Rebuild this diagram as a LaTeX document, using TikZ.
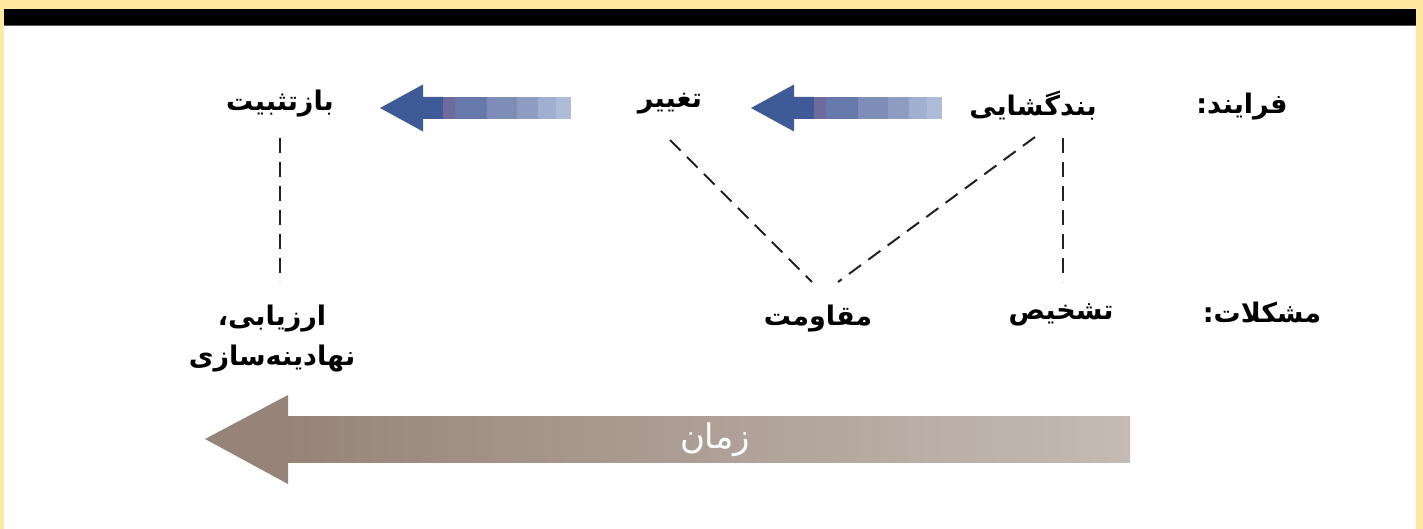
\documentclass[tikz,border=0pt]{standalone}
\usepackage{fontspec}
\usetikzlibrary{calc}
\newfontfamily\fa[Script=Arabic]{DejaVu Sans}
\TeXXeTstate=1
\definecolor{bord}{HTML}{FFE9A0}
\definecolor{bA}{HTML}{3E5A97}
\definecolor{bB}{HTML}{6E6A9B}
\definecolor{bC}{HTML}{6779AA}
\definecolor{bD}{HTML}{7E8DB8}
\definecolor{bE}{HTML}{8E9CC2}
\definecolor{bF}{HTML}{A0AECF}
\definecolor{bG}{HTML}{AFBCD8}
\definecolor{brA}{HTML}{968478}
\definecolor{brB}{HTML}{C5BBB4}
\definecolor{dashc}{HTML}{222222}
\tikzset{
  lbl/.style={font={\fa\bfseries\fontsize{27}{40}\selectfont}, inner sep=0pt, text=black},
  dashline/.style={draw=dashc, line width=2pt, dash pattern=on 15pt off 9pt},
  bluearrow/.pic={
    \fill[bA] (0,0) -- (43,-23.5) -- (43,-11) -- (63,-11) -- (63,11) -- (43,11) -- (43,23.5) -- cycle;
    \fill[bB] (63,-11) rectangle (75,11);
    \fill[bC] (75,-11) rectangle (107,11);
    \fill[bD] (107,-11) rectangle (137,11);
    \fill[bE] (137,-11) rectangle (158,11);
    \fill[bF] (158,-11) rectangle (176,11);
    \fill[bG] (176,-11) rectangle (191,11);
  }
}
\begin{document}
\begin{tikzpicture}[x=1pt,y=-1pt]
\useasboundingbox (0,0) rectangle (1423,529);
\fill[white] (0,0) rectangle (1423,529);
% border
\fill[bord] (0,0) rectangle (1423,9);
\fill[bord] (0,0) rectangle (4,529);
\fill[bord] (1416,0) rectangle (1423,529);
\fill[black] (4,9) rectangle (1416,25);
\fill[black!65] (4,25) rectangle (1416,26.5);

% process arrows
\pic at (380,108) {bluearrow};
\pic at (751,108) {bluearrow};

% time arrow
\shade[left color=brA, right color=brB] (286,416) rectangle (1130,462);
\fill[brA] (205,439) -- (288,395) -- (288,416) -- (290,416) -- (290,462) -- (288,462) -- (288,484) -- cycle;
\node[font={\fa\fontsize{34}{40}\selectfont}, text=white, inner sep=0pt] (zaman) at (715,440) {\beginR زمان\endR};

% labels
\node[lbl] (farayand) at (1242,107) {\beginR فرایند:\endR};
\node[lbl] (moshkelat) at (1262,313) {\beginR مشکلات:\endR};
\node[lbl] (bandgoshayi) at (1033,106) {\beginR بندگشایی\endR};
\node[lbl] (taghyir) at (670,104) {\beginR تغییر\endR};
\node[lbl] (baztasbit) at (280,104) {\beginR بازتثبیت\endR};
\node[lbl] (tashkhis) at (1061,315) {\beginR تشخیص\endR};
\node[lbl] (moghavemat) at (818,319) {\beginR مقاومت\endR};
\node[lbl, align=center] (arzyabi) at (272,339) {\beginR ارزیابی،\endR\\\beginR نهادینه‌سازی\endR};

% levels for connector ends
\coordinate (toprow) at (0,138);
\coordinate (botrow) at (0,282);

% dashed connectors
\draw[dashline] ($(baztasbit.center |- toprow)$) -- ($(baztasbit.center |- botrow)$);
\draw[dashline] ($(tashkhis.center |- toprow)+(2,0)$) -- ($(tashkhis.center |- botrow)+(2,0)$);
\draw[dashline] ($(taghyir.center |- toprow)+(0,2)$) -- ($(moghavemat.center |- botrow)+(-6,0)$);
\draw[dashline] ($(bandgoshayi.center |- toprow)+(2,-1)$) -- ($(moghavemat.center |- botrow)+(20,0)$);
\end{tikzpicture}
\end{document}
